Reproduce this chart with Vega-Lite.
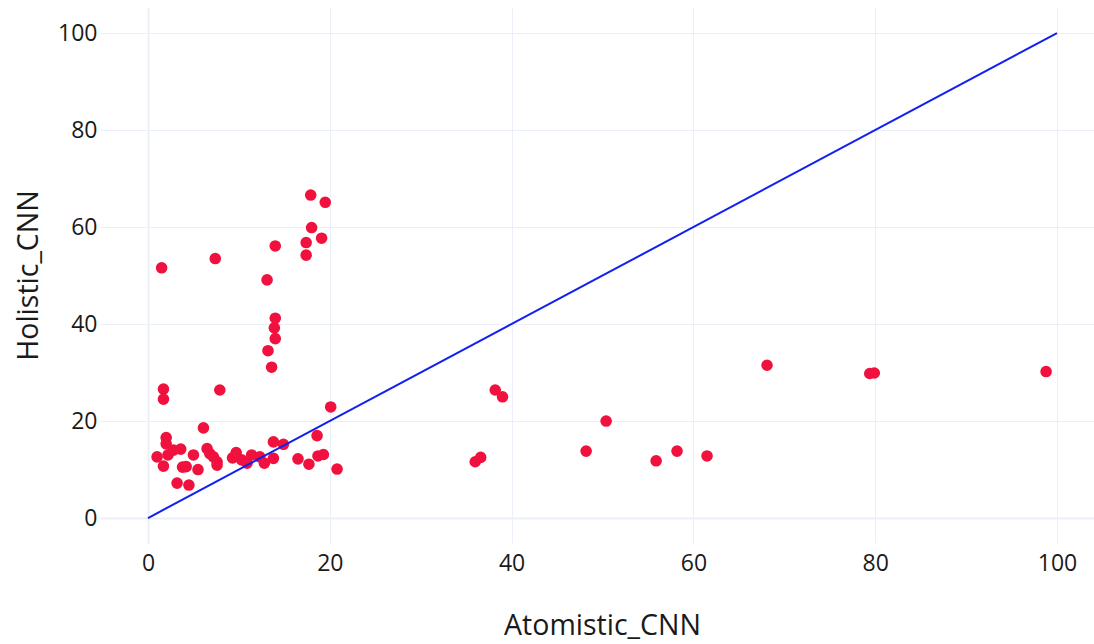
{
  "$schema": "https://vega.github.io/schema/vega-lite/v6.json",
  "width": 994,
  "height": 536,
  "autosize": {"type": "none"},
  "padding": {"left": 100, "top": 7, "right": 0, "bottom": 101},
  "background": "white",
  "config": {
    "view": {"stroke": null},
    "font": "Open Sans",
    "axis": {
      "domain": false,
      "ticks": false,
      "tickSize": 0,
      "grid": true,
      "gridColor": "#EBF0F8",
      "gridWidth": {"condition": {"test": "datum.value === 0", "value": 2}, "value": 1},
      "labelFont": "Open Sans",
      "labelFontSize": 23,
      "labelColor": "#1a1a1a",
      "labelFlush": false,
      "labelOverlap": false,
      "titleFont": "Open Sans",
      "titleFontSize": 28.5,
      "titleFontWeight": "normal",
      "titleColor": "#1a1a1a"
    }
  },
  "datasets": {
    "points": [
      {"Atomistic_CNN": 1.5, "Holistic_CNN": 51.6},
      {"Atomistic_CNN": 7.4, "Holistic_CNN": 53.5},
      {"Atomistic_CNN": 13.1, "Holistic_CNN": 49.1},
      {"Atomistic_CNN": 14.0, "Holistic_CNN": 56.1},
      {"Atomistic_CNN": 17.9, "Holistic_CNN": 66.6},
      {"Atomistic_CNN": 19.5, "Holistic_CNN": 65.1},
      {"Atomistic_CNN": 18.0, "Holistic_CNN": 59.9},
      {"Atomistic_CNN": 19.1, "Holistic_CNN": 57.7},
      {"Atomistic_CNN": 17.4, "Holistic_CNN": 56.8},
      {"Atomistic_CNN": 17.4, "Holistic_CNN": 54.2},
      {"Atomistic_CNN": 14.0, "Holistic_CNN": 41.2},
      {"Atomistic_CNN": 13.9, "Holistic_CNN": 39.2},
      {"Atomistic_CNN": 14.0, "Holistic_CNN": 37.0},
      {"Atomistic_CNN": 13.2, "Holistic_CNN": 34.5},
      {"Atomistic_CNN": 13.6, "Holistic_CNN": 31.1},
      {"Atomistic_CNN": 1.7, "Holistic_CNN": 26.6},
      {"Atomistic_CNN": 1.7, "Holistic_CNN": 24.5},
      {"Atomistic_CNN": 7.9, "Holistic_CNN": 26.4},
      {"Atomistic_CNN": 20.1, "Holistic_CNN": 22.9},
      {"Atomistic_CNN": 6.1, "Holistic_CNN": 18.6},
      {"Atomistic_CNN": 2.0, "Holistic_CNN": 16.6},
      {"Atomistic_CNN": 2.0, "Holistic_CNN": 15.3},
      {"Atomistic_CNN": 1.0, "Holistic_CNN": 12.6},
      {"Atomistic_CNN": 1.7, "Holistic_CNN": 10.7},
      {"Atomistic_CNN": 2.2, "Holistic_CNN": 13.0},
      {"Atomistic_CNN": 2.8, "Holistic_CNN": 14.0},
      {"Atomistic_CNN": 3.6, "Holistic_CNN": 14.2},
      {"Atomistic_CNN": 3.2, "Holistic_CNN": 7.2},
      {"Atomistic_CNN": 4.5, "Holistic_CNN": 6.8},
      {"Atomistic_CNN": 3.8, "Holistic_CNN": 10.5},
      {"Atomistic_CNN": 4.2, "Holistic_CNN": 10.6},
      {"Atomistic_CNN": 5.5, "Holistic_CNN": 10.0},
      {"Atomistic_CNN": 5.0, "Holistic_CNN": 13.0},
      {"Atomistic_CNN": 6.5, "Holistic_CNN": 14.3},
      {"Atomistic_CNN": 6.8, "Holistic_CNN": 13.3},
      {"Atomistic_CNN": 7.2, "Holistic_CNN": 12.6},
      {"Atomistic_CNN": 7.6, "Holistic_CNN": 11.6},
      {"Atomistic_CNN": 7.6, "Holistic_CNN": 10.9},
      {"Atomistic_CNN": 9.3, "Holistic_CNN": 12.4},
      {"Atomistic_CNN": 9.7, "Holistic_CNN": 13.5},
      {"Atomistic_CNN": 10.3, "Holistic_CNN": 12.0},
      {"Atomistic_CNN": 10.9, "Holistic_CNN": 11.3},
      {"Atomistic_CNN": 11.4, "Holistic_CNN": 13.0},
      {"Atomistic_CNN": 12.3, "Holistic_CNN": 12.6},
      {"Atomistic_CNN": 12.8, "Holistic_CNN": 11.3},
      {"Atomistic_CNN": 13.8, "Holistic_CNN": 15.7},
      {"Atomistic_CNN": 13.8, "Holistic_CNN": 12.3},
      {"Atomistic_CNN": 14.9, "Holistic_CNN": 15.2},
      {"Atomistic_CNN": 16.5, "Holistic_CNN": 12.2},
      {"Atomistic_CNN": 17.7, "Holistic_CNN": 11.1},
      {"Atomistic_CNN": 18.6, "Holistic_CNN": 17.0},
      {"Atomistic_CNN": 18.7, "Holistic_CNN": 12.8},
      {"Atomistic_CNN": 19.3, "Holistic_CNN": 13.1},
      {"Atomistic_CNN": 20.8, "Holistic_CNN": 10.1},
      {"Atomistic_CNN": 36.0, "Holistic_CNN": 11.6},
      {"Atomistic_CNN": 36.6, "Holistic_CNN": 12.5},
      {"Atomistic_CNN": 38.2, "Holistic_CNN": 26.4},
      {"Atomistic_CNN": 39.0, "Holistic_CNN": 25.0},
      {"Atomistic_CNN": 48.2, "Holistic_CNN": 13.8},
      {"Atomistic_CNN": 50.4, "Holistic_CNN": 20.0},
      {"Atomistic_CNN": 55.9, "Holistic_CNN": 11.8},
      {"Atomistic_CNN": 58.2, "Holistic_CNN": 13.8},
      {"Atomistic_CNN": 61.5, "Holistic_CNN": 12.8},
      {"Atomistic_CNN": 68.1, "Holistic_CNN": 31.5},
      {"Atomistic_CNN": 79.4, "Holistic_CNN": 29.8},
      {"Atomistic_CNN": 79.9, "Holistic_CNN": 29.9},
      {"Atomistic_CNN": 98.8, "Holistic_CNN": 30.2}
    ],
    "diag": [
      {"Atomistic_CNN": 0, "Holistic_CNN": 0},
      {"Atomistic_CNN": 100, "Holistic_CNN": 100}
    ]
  },
  "layer": [
    {
      "data": {"name": "points"},
      "mark": {"type": "circle", "size": 135, "color": "#F0113E", "opacity": 1},
      "encoding": {
        "x": {
          "field": "Atomistic_CNN",
          "type": "quantitative",
          "scale": {"domain": [-5.28, 104.07], "nice": false, "zero": false},
          "axis": {
            "values": [0, 20, 40, 60, 80, 100],
            "labelPadding": 27.5,
            "labelBaseline": "alphabetic",
            "title": "Atomistic_CNN",
            "titleX": 502,
            "titleY": 91,
            "titleAlign": "center",
            "titleBaseline": "alphabetic"
          }
        },
        "y": {
          "field": "Holistic_CNN",
          "type": "quantitative",
          "scale": {"domain": [-5.15, 105.37], "nice": false, "zero": false},
          "axis": {
            "values": [0, 20, 40, 60, 80, 100],
            "labelPadding": 3,
            "labelBaseline": "middle",
            "title": "Holistic_CNN",
            "titleAngle": 270,
            "titleX": -63,
            "titleY": 268,
            "titleAlign": "center",
            "titleBaseline": "alphabetic"
          }
        }
      }
    },
    {
      "data": {"name": "diag"},
      "mark": {"type": "line", "color": "#1020EE", "strokeWidth": 2},
      "encoding": {
        "x": {"field": "Atomistic_CNN", "type": "quantitative"},
        "y": {"field": "Holistic_CNN", "type": "quantitative"}
      }
    }
  ]
}
